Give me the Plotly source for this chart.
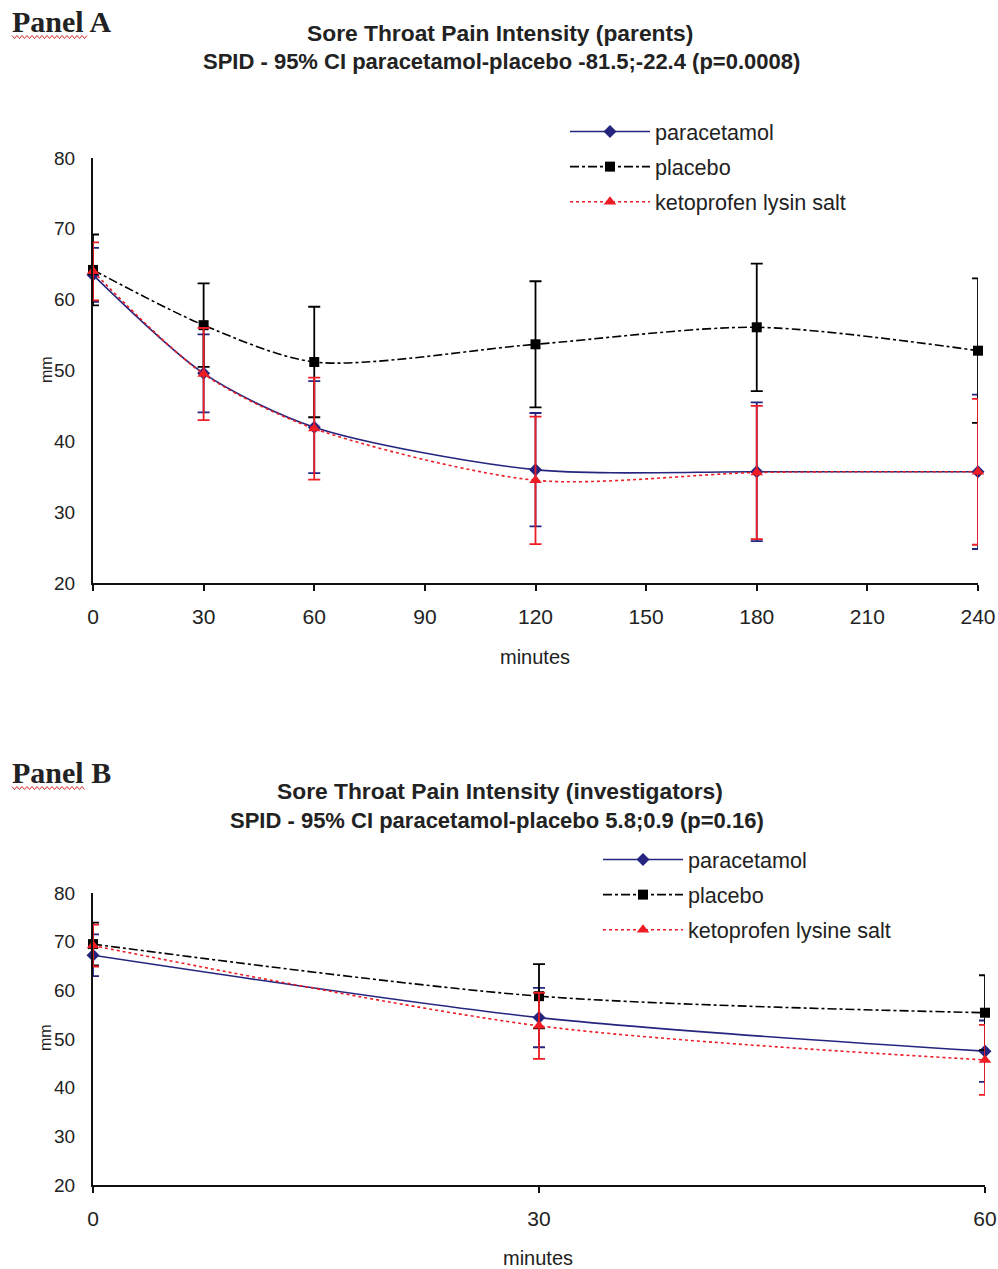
import plotly.graph_objects as go

W, H = 998, 1269

# ---------------- data ----------------
timesA = [0, 30, 60, 120, 180, 240]
paraA = [63.5, 49.6, 42.0, 36.0, 35.7, 35.7]
paraA_ci = [3.8, 5.5, 6.5, 8.0, 9.8, 10.9]
placA = [64.2, 56.4, 51.2, 53.7, 56.1, 52.8]
placA_ci = [5.0, 5.9, 7.8, 8.9, 9.0, 10.2]
ketoA = [64.0, 49.5, 41.8, 34.5, 35.6, 35.7]
ketoA_ci = [4.1, 6.5, 7.2, 9.0, 9.4, 10.3]

timesB = [0, 30, 60]
paraB = [67.2, 54.4, 47.5]
paraB_ci = [4.3, 6.1, 6.3]
placB = [69.5, 58.8, 55.4]
placB_ci = [4.4, 6.6, 7.7]
ketoB = [69.2, 52.7, 45.7]
ketoB_ci = [4.3, 6.8, 7.2]

ticksA = [0, 30, 60, 90, 120, 150, 180, 210, 240]
ticksB = [0, 30, 60]
yticks = [20, 30, 40, 50, 60, 70, 80]

NAVY = "#25257f"
RED = "#ee1c25"
BLACK = "#000000"
TXT = "#222222"
FONT = "Liberation Sans, Arial, sans-serif"


def px(x):
    return x / W


def py(y):
    return 1 - y / H


fig = go.Figure()


def add_series(x, y, ci, name, color, dash, symbol, msize, xa, ya, legend, grp):
    fig.add_trace(go.Scatter(
        x=x, y=y, name=name, mode="lines+markers",
        line=dict(color=color, width=1.6, dash=dash, shape="spline", smoothing=0.8),
        marker=dict(symbol=symbol, size=msize, color=color),
        error_y=dict(type="data", array=ci, visible=True, color=color,
                     thickness=1.8, width=6),
        xaxis=xa, yaxis=ya, legend=legend, legendgroup=grp, cliponaxis=False,
    ))


# Panel A
add_series(timesA, paraA, paraA_ci, "paracetamol", NAVY, "solid", "diamond", 10, "x", "y", "legend", "a1")
add_series(timesA, placA, placA_ci, "placebo", BLACK, "dashdot", "square", 10, "x", "y", "legend", "a2")
add_series(timesA, ketoA, ketoA_ci, "ketoprofen lysin salt", RED, "dot", "triangle-up", 11, "x", "y", "legend", "a3")
# Panel B
add_series(timesB, paraB, paraB_ci, "paracetamol", NAVY, "solid", "diamond", 10, "x2", "y2", "legend2", "b1")
add_series(timesB, placB, placB_ci, "placebo", BLACK, "dashdot", "square", 10, "x2", "y2", "legend2", "b2")
add_series(timesB, ketoB, ketoB_ci, "ketoprofen lysine salt", RED, "dot", "triangle-up", 11, "x2", "y2", "legend2", "b3")

axis_common = dict(showgrid=False, zeroline=False, showline=True, linecolor="#111111",
                   linewidth=2, ticks="outside", tickcolor="#111111", ticklen=6,
                   tickwidth=1.5, tickfont=dict(family=FONT, size=21, color=TXT),
                   ticklabelstandoff=8, fixedrange=True, automargin=False)
yaxis_common = {**axis_common, "ticks": "", "ticklabelstandoff": 12,
                "tickfont": dict(family=FONT, size=19, color=TXT)}

fig.update_layout(
    width=W, height=H, margin=dict(l=0, r=0, t=0, b=0, pad=0, autoexpand=False),
    paper_bgcolor="white", plot_bgcolor="white",
    xaxis=dict(domain=[px(93), px(978)], range=[0, 240], tickvals=ticksA,
               anchor="y", **axis_common),
    yaxis=dict(domain=[py(583), py(158)], range=[20, 80], tickvals=yticks,
               anchor="x", **yaxis_common),
    xaxis2=dict(domain=[px(93), px(985)], range=[0, 60], tickvals=ticksB,
                anchor="y2", **axis_common),
    yaxis2=dict(domain=[py(1185), py(893)], range=[20, 80], tickvals=yticks,
                anchor="x2", **yaxis_common),
    legend=dict(x=px(565), y=py(111), xanchor="left", yanchor="top",
                font=dict(family=FONT, size=21.6, color=TXT), bgcolor="rgba(0,0,0,0)",
                tracegroupgap=4, itemwidth=80),
    legend2=dict(x=px(598), y=py(839), xanchor="left", yanchor="top",
                 font=dict(family=FONT, size=21.6, color=TXT), bgcolor="rgba(0,0,0,0)",
                 tracegroupgap=4, itemwidth=80),
    showlegend=True,
)

annotations = []


def text(x, y, s, size, bold=False, family=FONT, angle=0, xanchor="center"):
    annotations.append(dict(
        x=px(x), y=py(y), xref="paper", yref="paper", text=f"<b>{s}</b>" if bold else s,
        showarrow=False, xanchor=xanchor, yanchor="middle", textangle=angle,
        font=dict(family=family, size=size, color=TXT)))


SERIF = "Liberation Serif, Times New Roman, serif"
text(10, 21, "Panel A", 30, True, SERIF, xanchor="left")
text(500, 33, "Sore Throat Pain Intensity (parents)", 22.8, True)
text(501, 62, "SPID - 95% CI paracetamol-placebo -81.5;-22.4 (p=0.0008)", 22, True)
text(47, 370, "mm", 16, angle=-90)
text(535, 657, "minutes", 20)

text(10, 772, "Panel B", 30, True, SERIF, xanchor="left")
text(500, 791, "Sore Throat Pain Intensity (investigators)", 22.8, True)
text(497, 820, "SPID - 95% CI paracetamol-placebo 5.8;0.9 (p=0.16)", 22, True)
text(45, 1038, "mm", 16, angle=-90)
text(538, 1258, "minutes", 20)

fig.update_layout(annotations=annotations)


# red spell-check squiggles under "Panel"
def squiggle(x0, x1, y):
    pts = []
    step = 2.5
    i = 0
    x = x0
    while x <= x1:
        yy = y + (1.5 if i % 2 else -1.5)
        pts.append((px(x), py(yy)))
        x += step
        i += 1
    path = "M " + " L ".join(f"{a:.5f},{b:.5f}" for a, b in pts)
    return dict(type="path", path=path, xref="paper", yref="paper",
                line=dict(color="#d42a2a", width=1))


fig.update_layout(shapes=[squiggle(12, 88, 37), squiggle(12, 86, 788)])

fig.write_html(
    "out.html",
    config={"displayModeBar": False},
    post_script=("document.body.style.margin='0';"
                 "document.body.style.overflow='hidden';"
                 "document.documentElement.style.overflow='hidden';"),
)
